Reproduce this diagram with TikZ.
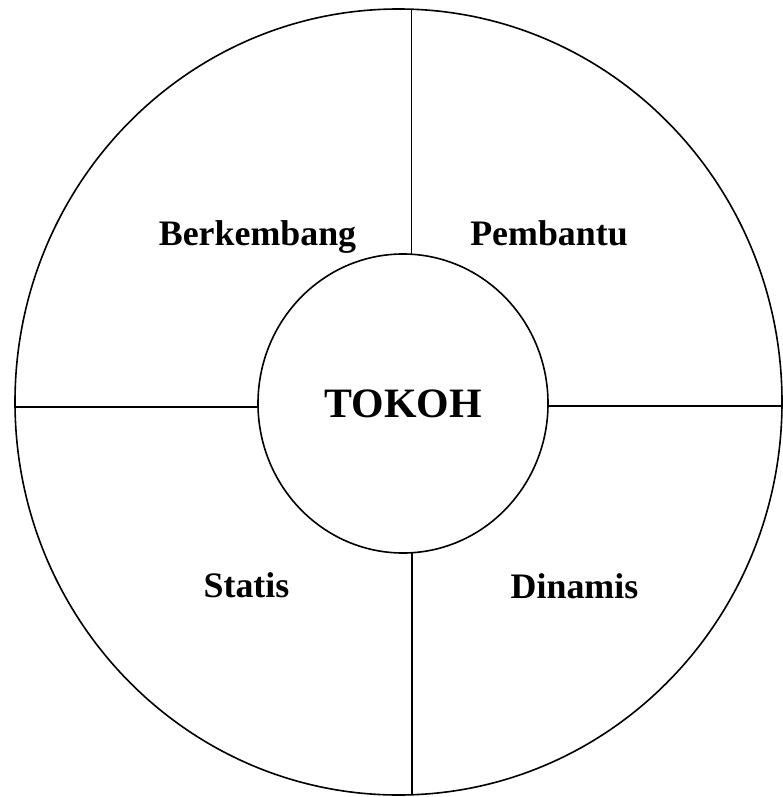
\documentclass[tikz,border=0pt]{standalone}
\usepackage{fontspec}
\setmainfont{Liberation Serif}
\begin{document}
\begin{tikzpicture}[x=1bp,y=-1bp,
  ring/.style={draw=black,line width=1.6bp},
  divider/.style={draw=black,line width=1.5bp},
  lbl/.style={font=\bfseries\fontsize{36}{40}\selectfont,anchor=base,inner sep=0pt},
  ttl/.style={font=\bfseries\fontsize{42}{46}\selectfont,anchor=base,inner sep=0pt}]
\useasboundingbox (0,0) rectangle (783,797);
\path[ring] (398.5,402) ellipse [x radius=383.5bp,y radius=393bp];
\path[ring] (403,403.5) ellipse [x radius=145bp,y radius=149.5bp];
\coordinate (top) at (411.5,9.5);
\coordinate (itop) at (411.5,254.3);
\coordinate (bot) at (412,795);
\coordinate (ibot) at (412,552.7);
\coordinate (lft) at (15,407);
\coordinate (ilft) at (258.2,407);
\coordinate (rgt) at (782,406);
\coordinate (irgt) at (547.8,406);
\draw[divider] (top) -- (itop);
\draw[divider] (ibot) -- (bot);
\draw[divider] (lft) -- (ilft);
\draw[divider] (irgt) -- (rgt);
\node[ttl] (tokoh) at (403,417) {TOKOH};
\node[lbl] (berk) at (257.5,245) {Berkembang};
\node[lbl] (pemb) at (549,245) {Pembantu};
\node[lbl] (stat) at (246.5,597) {Statis};
\node[lbl] (dina) at (574.5,598) {Dinamis};
\end{tikzpicture}
\end{document}
